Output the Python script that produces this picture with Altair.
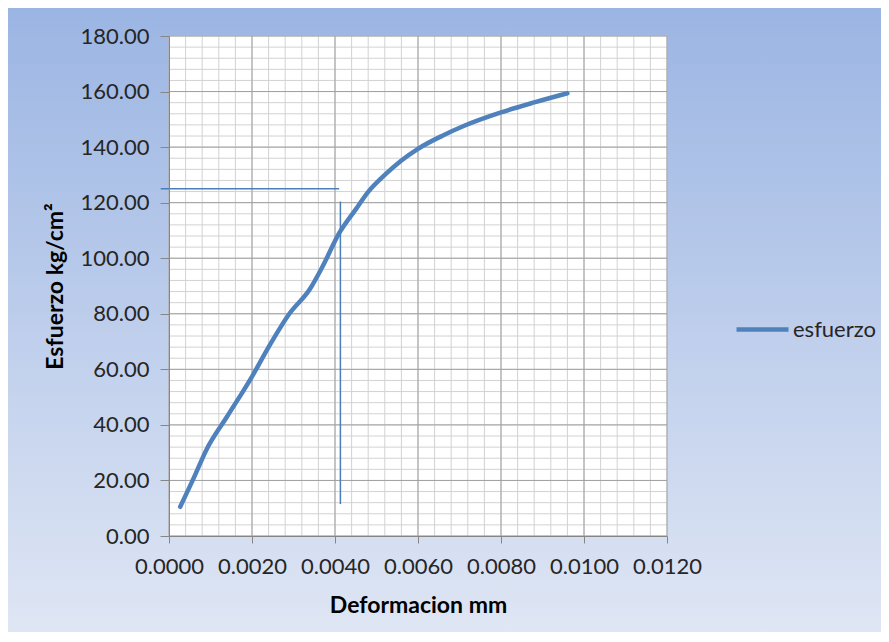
import altair as alt
import pandas as pd

# Data
deformacion = [0.00027, 0.0006, 0.0009, 0.0014, 0.0020, 0.0024, 0.0029, 0.0034,
               0.0037, 0.0041, 0.0045, 0.0048, 0.0052, 0.0056, 0.0060, 0.0066,
               0.0071, 0.0080, 0.0088, 0.0096]
esfuerzo = [10.5, 21, 31, 43, 57.4, 68, 80, 89, 97, 109, 117.6, 123.9, 130, 135.2,
            139.4, 144.2, 147.6, 152.5, 156.1, 159.4]
serie = "esfuerzo"

# Annotation lines (drawn shapes in the original)
h_line_x = [-0.0002, 0.0041]
h_line_y = [125, 125]
v_line_x = [0.00413, 0.00413]
v_line_y = [11.5, 120.4]

# Axis / grid values
x_major = [0.0, 0.002, 0.004, 0.006, 0.008, 0.010, 0.012]
x_minor = [round(i * 0.0004, 4) for i in range(31)]
y_major = [0, 20, 40, 60, 80, 100, 120, 140, 160, 180]
y_minor = list(range(0, 181, 4))

W, H = 498, 500
PL, PT, TOTW, TOTH = 161, 28, 873, 624

xs = alt.Scale(domain=[0, 0.012], nice=False, zero=False)
ys = alt.Scale(domain=[0, 180], nice=False, zero=False)

FONT = "Lato"
blue = "#4f81bd"

x_axis = alt.Axis(values=x_major, format=".4f", grid=False, tickSize=7,
                  labelPadding=13, labelOverlap=False, labelFlush=False,
                  title="Deformacion mm",
                  titleBaseline="alphabetic", titleY=76, zindex=1)
y_axis = alt.Axis(values=y_major, format=".2f", grid=False, tickSize=9,
                  labelPadding=11, labelOverlap=False, labelFlush=False,
                  title="Esfuerzo kg/cm²",
                  titleBaseline="alphabetic", titleX=-107, zindex=1)


def X(f):
    return alt.X(f, scale=xs, axis=x_axis)


def Y(f):
    return alt.Y(f, scale=ys, axis=y_axis)


one = pd.DataFrame({"a": [0]})

bg = alt.Chart(one).mark_rect(
    fill=alt.Gradient(
        gradient="linear",
        stops=[alt.GradientStop(color="#9bb5e3", offset=0),
               alt.GradientStop(color="#dfe6f4", offset=1)],
        x1=0, x2=0, y1=0, y2=1,
    )
).encode(x=alt.value(-PL), x2=alt.value(TOTW - PL), y=alt.value(-PT), y2=alt.value(TOTH - PT))

plotbg = alt.Chart(one).mark_rect(fill="white").encode(
    x=alt.value(0), x2=alt.value(W), y=alt.value(0), y2=alt.value(H)
)

xminor = alt.Chart(pd.DataFrame({"v": x_minor})).mark_rule(color="#d2d2d2", strokeWidth=1).encode(
    x=X("v:Q"))
yminor = alt.Chart(pd.DataFrame({"v": y_minor})).mark_rule(color="#d2d2d2", strokeWidth=1).encode(
    y=Y("v:Q"))
xmajor = alt.Chart(pd.DataFrame({"v": x_major})).mark_rule(color="#a0a0a0", strokeWidth=1).encode(
    x=X("v:Q"))
ymajor = alt.Chart(pd.DataFrame({"v": y_major})).mark_rule(color="#a0a0a0", strokeWidth=1).encode(
    y=Y("v:Q"))

df = pd.DataFrame({"deformacion": deformacion, "esfuerzo": esfuerzo, "serie": serie})

line = alt.Chart(df).mark_line(strokeWidth=4.5, interpolate="monotone", strokeCap="round").encode(
    x=X("deformacion:Q"),
    y=Y("esfuerzo:Q"),
    color=alt.Color("serie:N", scale=alt.Scale(range=[blue]),
                    legend=alt.Legend(title=None, orient="none", legendX=565, legendY=265,
                                      symbolType="stroke", symbolSize=2704,
                                      symbolStrokeWidth=4.5, labelOffset=2)),
)

hline = alt.Chart(pd.DataFrame({"x": [h_line_x[0]], "x2": [h_line_x[1]], "y": [h_line_y[0]]})).mark_rule(
    color="#4a7ebb", strokeWidth=1.5).encode(
    x=X("x:Q"), x2="x2:Q", y=Y("y:Q")
)
vline = alt.Chart(pd.DataFrame({"x": [v_line_x[0]], "y": [v_line_y[0]], "y2": [v_line_y[1]]})).mark_rule(
    color="#4a7ebb", strokeWidth=1.5).encode(
    x=X("x:Q"), y=Y("y:Q"), y2="y2:Q"
)

chart = alt.layer(bg, plotbg, xminor, yminor, xmajor, ymajor, line, hline, vline).properties(
    width=W, height=H,
    autosize=alt.AutoSizeParams(type="none"),
    padding={"left": PL, "top": PT, "right": TOTW - PL - W, "bottom": TOTH - PT - H},
).configure_view(stroke=None).configure_axis(
    labelFont=FONT, labelFontSize=22, labelColor="#262626",
    titleFont=FONT, titleFontSize=23, titleFontWeight="bold", titleColor="#000000",
    domainColor="#868686", tickColor="#868686", domainWidth=1,
).configure_legend(
    labelFont=FONT, labelFontSize=22, labelColor="#262626",
)

chart.save("out.html", embed_options={"renderer": "svg", "actions": False})
